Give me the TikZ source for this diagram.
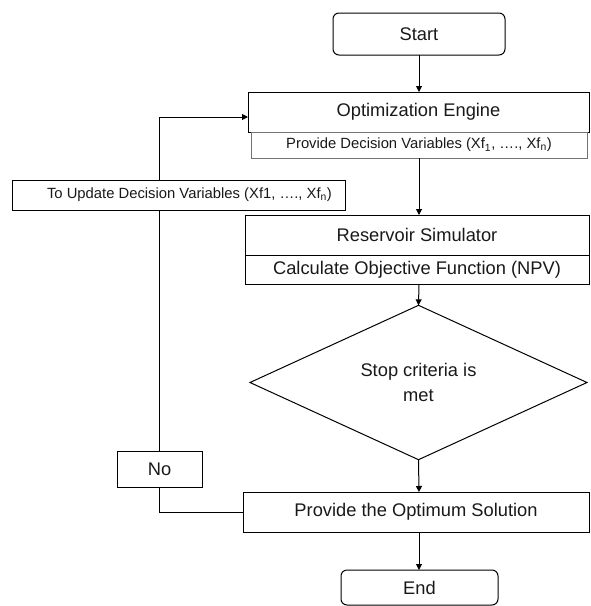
\documentclass[tikz,border=0pt]{standalone}
\usepackage{fontspec}
\setmainfont{Liberation Sans}
\usetikzlibrary{arrows.meta,shapes.geometric}
\begin{document}
\begin{tikzpicture}[x=1pt,y=-1pt,
  every node/.style={inner sep=0pt,outer sep=0pt,line width=1pt,text=black!90},
  bigtxt/.style={font=\fontsize{18.3}{22}\selectfont},
  smalltxt/.style={font=\fontsize{14.8}{18}\selectfont},
  termbox/.style={draw,rounded corners=6pt,bigtxt},
  procbox/.style={draw,rectangle,bigtxt},
  subbox/.style={draw,rectangle,smalltxt},
  flow/.style={line width=1pt,-{Triangle[length=6pt,width=6pt]}},
  plain/.style={line width=1pt}]
\useasboundingbox (0,0) rectangle (590,606);
\node[termbox,minimum width=172pt,minimum height=42pt] (start) at (419,34) {Start};
\node[procbox,minimum width=341pt,minimum height=40pt] (opt) at (418.5,112) {Optimization Engine};
\node[subbox,draw=black!55,minimum width=336pt,minimum height=26pt] (prov) at (419,145) {Provide Decision Variables (Xf\textsubscript{1}, …., Xf\textsubscript{n})};
\node[procbox,minimum width=344pt,minimum height=40pt] (res) at (417,235) {Reservoir Simulator};
\node[procbox,minimum width=344pt,minimum height=29pt] (calc) at (417,269.5) {Calculate Objective Function (NPV)};
\node[draw,diamond,bigtxt,align=center,minimum width=337pt,minimum height=135pt,font=\fontsize{18.3}{25}\selectfont] (stop) at (418.5,382.5) {Stop criteria is\\met};
\node[procbox,minimum width=346pt,minimum height=40pt] (optsol) at (416,512) {Provide the Optimum Solution};
\node[termbox,minimum width=157pt,minimum height=35pt] (end) at (419.5,587.5) {End};
\node[subbox,minimum width=333pt,minimum height=30pt] (upd) at (178.5,195) {\hspace*{22pt}To Update Decision Variables (Xf1, …., Xf\textsubscript{n})};
\node[procbox,minimum width=85pt,minimum height=36pt] (no) at (159.5,469) {No};
\draw[flow] (start.south -| 419,0) -- (419,0 |- opt.north);
\draw[flow] (prov.south -| 419,0) -- (419,0 |- res.north);
\draw[flow] (calc.south -| 419,0) -- (stop.north);
\draw[flow] (stop.south) -- (419,0 |- optsol.north);
\draw[flow] (optsol.south -| 419,0) -- (419,0 |- end.north);
\draw[flow] (upd.north -| no.north) |- ([yshift=-5pt]opt.west);
\draw[plain] (upd.south -| no.north) -- (no.north);
\draw[plain] (no.south) |- (optsol.west);
\end{tikzpicture}
\end{document}
